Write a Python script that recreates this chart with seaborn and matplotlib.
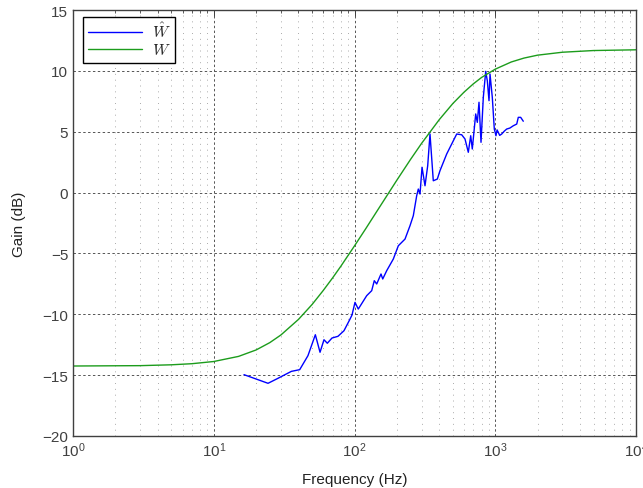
import numpy as np
import pandas as pd
import matplotlib
matplotlib.use("Agg")
import matplotlib.pyplot as plt
from matplotlib.font_manager import FontProperties
from matplotlib.ticker import LogLocator, NullFormatter, MultipleLocator
import seaborn as sns

# Target shaping filter W (model response)
w_freq = [1, 2, 3, 5, 7, 10, 15, 20, 25, 30, 40, 50, 60, 70, 80, 100, 120, 150,
          200, 250, 300, 400, 500, 600, 700, 800, 1000, 1300, 1600, 2000, 3000,
          5000, 10000]
w_gain = [-14.25, -14.23, -14.22, -14.15, -14.06, -13.88, -13.46, -12.93, -12.33,
          -11.70, -10.42, -9.19, -8.04, -7.00, -6.05, -4.38, -2.98, -1.23, 1.02,
          2.72, 4.05, 5.99, 7.32, 8.25, 8.94, 9.46, 10.14, 10.73, 11.05, 11.29,
          11.53, 11.67, 11.73]

# Estimated response W-hat (measured)
what_freq = [16.4, 24.3, 28.6, 35.6, 40.8, 46.7, 52.7, 56.9, 60.7, 64.1, 69.2,
             76.3, 84.2, 92.4, 96.0, 100.8, 106.4, 122.1, 132.5, 138.2, 143.8,
             154.3, 158.7, 169.3, 188.7, 204.8, 228.5, 248.0, 261.7, 276.6, 284.0,
             292.1, 301.8, 316.9, 331.2, 343.9, 362.9, 387.6, 405.0, 451.9, 532.3,
             577.6, 609.7, 643.5, 669.3, 686.9, 726.3, 745.6, 766.6, 792.2, 822.6,
             855.6, 878.2, 903.0, 917.9, 952.8, 984.6, 1012, 1030, 1051, 1075,
             1111, 1160, 1206, 1270, 1344, 1421, 1458, 1516, 1582]
what_gain = [-14.96, -15.67, -15.26, -14.69, -14.55, -13.40, -11.68, -13.12,
             -12.09, -12.38, -11.95, -11.81, -11.35, -10.45, -10.06, -9.02, -9.57,
             -8.47, -8.06, -7.24, -7.51, -6.69, -7.10, -6.42, -5.46, -4.37, -3.82,
             -2.72, -1.90, -0.26, 0.29, -0.12, 2.08, 0.56, 2.21, 4.81, 0.97, 1.11,
             1.80, 3.17, 4.81, 4.75, 4.40, 3.31, 4.67, 3.58, 6.46, 5.77, 7.42, 4.13,
             7.83, 9.96, 9.19, 7.55, 9.74, 7.83, 5.22, 4.67, 5.15, 4.95, 4.70, 4.81,
             5.05, 5.22, 5.30, 5.49, 5.63, 6.18, 6.18, 5.86]

x_label = "Frequency (Hz)"
y_label = "Gain (dB)"
legend_labels = [r"$\hat{W}$", r"$W$"]

sns.set_style("white")
plt.rcParams["font.family"] = ["Liberation Sans", "DejaVu Sans"]
plt.rcParams["mathtext.fontset"] = "custom"
plt.rcParams["mathtext.rm"] = "Liberation Sans"
plt.rcParams["mathtext.it"] = "Liberation Sans:italic"
plt.rcParams["mathtext.bf"] = "Liberation Sans:bold"

ink = "#404040"

fig = plt.figure(figsize=(6.43, 4.89), dpi=100)
ax = fig.add_axes([73 / 643, 52 / 489, 563 / 643, 426 / 489])

df_hat = pd.DataFrame({"f": what_freq, "g": what_gain})
df_w = pd.DataFrame({"f": w_freq, "g": w_gain})

sns.lineplot(data=df_hat, x="f", y="g", ax=ax, color="#0000ff", lw=1.0,
             estimator=None, label=legend_labels[0])
sns.lineplot(data=df_w, x="f", y="g", ax=ax, color="#1c9c1c", lw=1.0,
             estimator=None, label=legend_labels[1])

ax.set_xscale("log")
ax.set_xlim(1, 1e4)
ax.set_ylim(-20, 15)
ax.yaxis.set_major_locator(MultipleLocator(5))
ax.xaxis.set_major_locator(LogLocator(base=10, numticks=10))
ax.xaxis.set_minor_locator(LogLocator(base=10, subs=np.arange(2, 10), numticks=10))
ax.xaxis.set_minor_formatter(NullFormatter())

# grid: dashed majors, dotted minors on the frequency axis
ax.grid(True, which="major", axis="both", color="#555555", lw=0.7,
        linestyle=(0, (2.5, 2.5)))
ax.grid(True, which="minor", axis="x", color="#ababab", lw=0.7,
        linestyle=(0, (1, 5)))
ax.set_axisbelow(True)

for s in ax.spines.values():
    s.set_visible(True)
    s.set_color(ink)
    s.set_linewidth(1.0)

ax.tick_params(which="both", direction="in", top=True, right=True, color=ink,
               labelcolor=ink, labelsize=11)
ax.tick_params(which="major", length=4, width=0.7)
ax.tick_params(which="minor", length=2, width=0.6)

ax.set_xlabel(x_label, fontsize=11, color="#222222", labelpad=9)
ax.set_ylabel(y_label, fontsize=11, color="#222222", labelpad=12)

leg = ax.legend(loc="upper left", bbox_to_anchor=(0.0178, 0.983), frameon=True,
                fancybox=False, framealpha=1, edgecolor="black",
                handlelength=3.4, borderpad=0.3, labelspacing=0.0,
                handletextpad=0.6, borderaxespad=0.0,
                prop=FontProperties(family="DejaVu Serif", size=11.5,
                                    math_fontfamily="cm"))
leg.get_frame().set_linewidth(1.0)

fig.savefig("out.png", dpi=100)
